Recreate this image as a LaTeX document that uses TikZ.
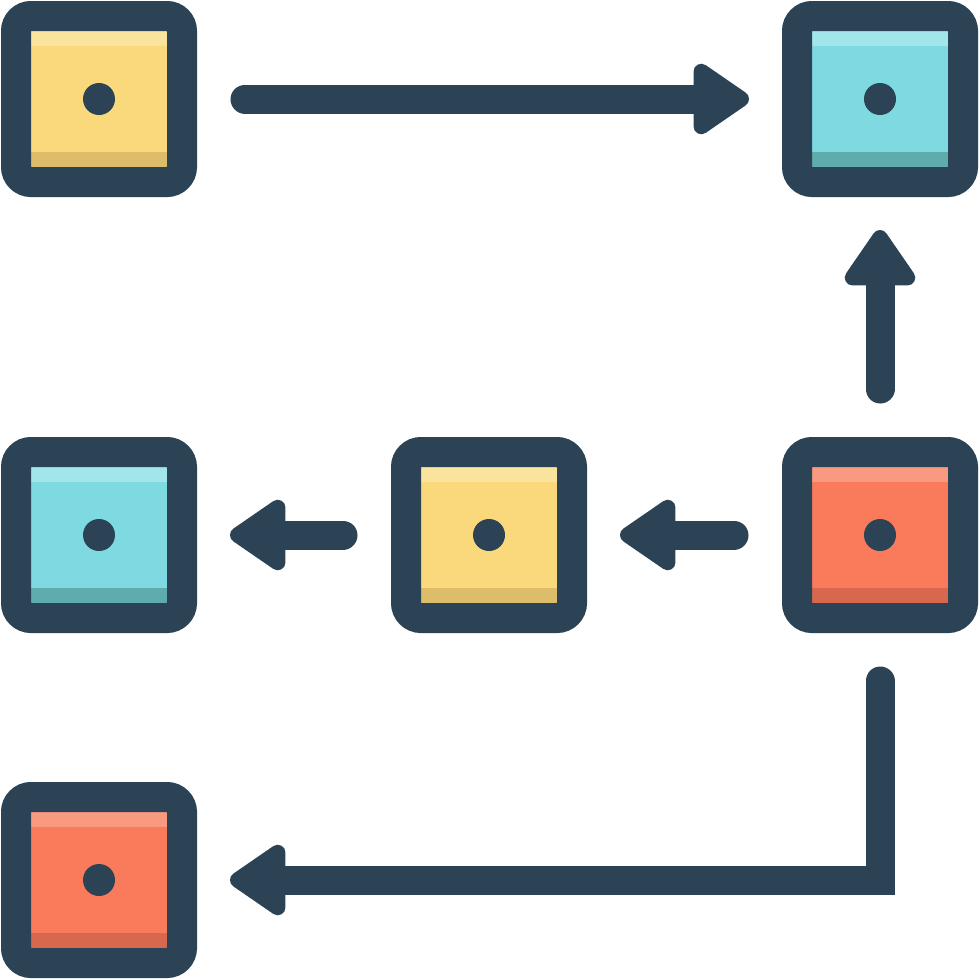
\documentclass[tikz,border=0pt]{standalone}
\usetikzlibrary{arrows.meta}

\definecolor{navy}{HTML}{2B4355}
\definecolor{sand}{HTML}{F9D97B}
\definecolor{sandtop}{HTML}{FAE39C}
\definecolor{sandbot}{HTML}{DDBC6A}
\definecolor{aqua}{HTML}{7ED9E1}
\definecolor{aquatop}{HTML}{A2E5EA}
\definecolor{aquabot}{HTML}{5FACAD}
\definecolor{coral}{HTML}{FA7B5C}
\definecolor{coraltop}{HTML}{F9997F}
\definecolor{coralbot}{HTML}{D8674F}

\begin{document}
\begin{tikzpicture}[x=0.1mm, y=-0.1mm,
	tile/.style = {draw=navy, line width=3mm, rounded corners=1.5mm, minimum size=16.6mm, inner sep=0pt, fill=#1,
		path picture = {
			\fill[#1top, sharp corners] (path picture bounding box.north west) rectangle ([yshift=-3mm]path picture bounding box.north east);
			\fill[#1bot, sharp corners] (path picture bounding box.south west) rectangle ([yshift=3mm]path picture bounding box.south east);
			\fill[navy] (path picture bounding box.center) circle (1.6mm);
		}},
	flow/.style = {draw=navy, line width=2.9mm, line cap=round, shorten <=4.8mm, shorten >=3.3mm,
		-{Triangle[round, length=6.2mm, width=8mm, line width=2.2mm]}}]
	\useasboundingbox (0,0) rectangle (980,980);
	\foreach \tname/\tx/\ty/\tcol in {tl/99/99/sand, tr/880/99/aqua, ml/99/535/aqua, mc/489/535/sand, mr/880/535/coral, bl/99/880/coral} {
		\node[tile=\tcol] (\tname) at (\tx,\ty) {};
	}
	\draw[flow] (tl) -- (tr);
	\draw[flow] (mr) -- (tr);
	\draw[flow] (mr) -- (mc);
	\draw[flow] (mc) -- (ml);
	\draw[flow] (mr) |- (bl);
\end{tikzpicture}
\end{document}
